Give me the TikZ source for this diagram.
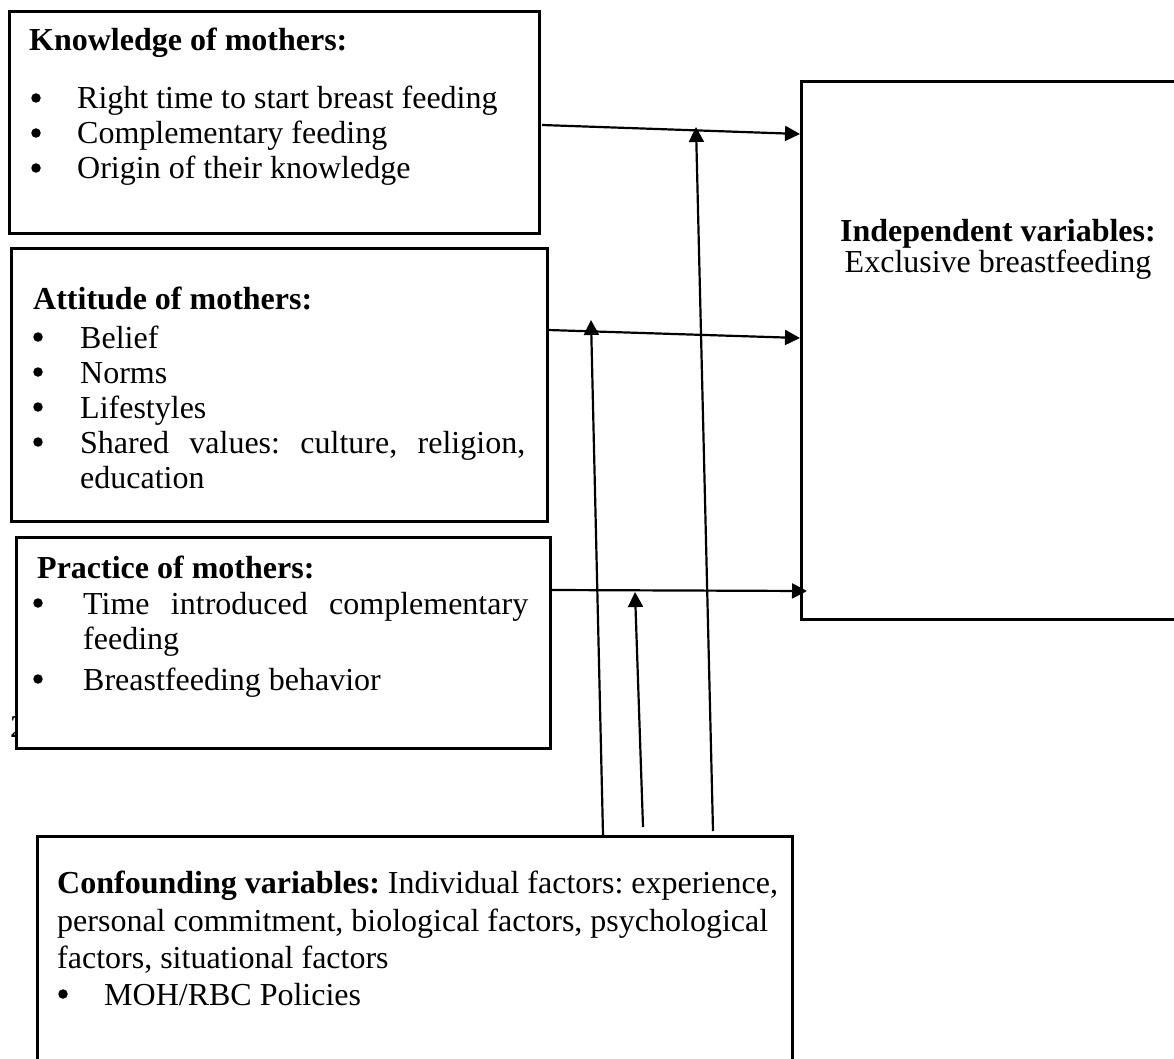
\documentclass[tikz,border=0pt]{standalone}
\usepackage{fontspec}
\setmainfont{Liberation Serif}
\usetikzlibrary{arrows.meta}
\frenchspacing
\begin{document}
\begin{tikzpicture}[x=1pt,y=-1pt,
  box/.style={draw, line width=2.6pt, anchor=north west, inner sep=0pt},
  txt/.style={anchor=base west, inner sep=0pt, font=\fontsize{32}{36}\selectfont\frenchspacing},
  ctxt/.style={anchor=base, inner sep=0pt, font=\fontsize{32}{36}\selectfont\frenchspacing},
  bul/.style={circle, fill=black, inner sep=0pt, minimum size=9.5pt},
  conn/.style={line width=2.2pt, -{Triangle[length=15pt,width=15pt]}}]
\useasboundingbox (0,0) rectangle (1174,1059);
\fill[white] (0,0) rectangle (1174,1059);

% Knowledge box
\node[box, minimum width=530pt, minimum height=222pt] (know) at (8,10) {};
\node[txt] (knowT) at (29,51) {\textbf{Knowledge of mothers:}};
\node[bul] (kb1) at (36,98) {};
\node[txt] (k1) at (77,109) {Right time to start breast feeding};
\node[bul] (kb2) at (36,133) {};
\node[txt] (k2) at (77,144) {Complementary feeding};
\node[bul] (kb3) at (36,168) {};
\node[txt] (k3) at (77,179) {Origin of their knowledge};

% Attitude box
\node[box, minimum width=536pt, minimum height=273pt] (att) at (10,247) {};
\node[txt] (attT) at (33,309) {\textbf{Attitude of mothers:}};
\node[bul] (ab1) at (38,337) {};
\node[txt] (a1) at (80,348) {Belief};
\node[bul] (ab2) at (38,372) {};
\node[txt] (a2) at (80,383) {Norms};
\node[bul] (ab3) at (38,407) {};
\node[txt] (a3) at (80,418) {Lifestyles};
\node[bul] (ab4) at (38,442) {};
\node[txt] (a4) at (80,453) {\makebox[445pt][s]{Shared values: culture, religion,}};
\node[txt] (a5) at (80,488) {education};

% stray glyph partly hidden by the practice box
\node[txt] (two) at (10,737) {2};

% Practice box
\node[box, fill=white, minimum width=534pt, minimum height=211pt] (prac) at (15,536) {};
\node[txt] (pracT) at (37,578) {\textbf{Practice of mothers:}};
\node[bul] (pb1) at (38,603) {};
\node[txt] (p1) at (83,614) {\makebox[445pt][s]{Time introduced complementary}};
\node[txt] (p2) at (83,649) {feeding};
\node[bul] (pb2) at (38,679) {};
\node[txt] (p3) at (83,690) {Breastfeeding behavior};

% Independent box
\node[box, minimum width=400pt, minimum height=538pt] (ind) at (800,80) {};
\node[ctxt] (indT) at (998,242) {\textbf{Independent variables:}};
\node[ctxt] (ind2) at (998,272) {Exclusive breastfeeding};

% Confounding box
\node[box, minimum width=755pt, minimum height=240pt] (conf) at (36,835) {};
\node[txt] (c1) at (57,893) {\textbf{Confounding variables:} Individual factors: experience,};
\node[txt] (c2) at (57,931) {personal commitment, biological factors, psychological};
\node[txt] (c3) at (57,968) {factors, situational factors};
\node[bul] (cb1) at (63,994) {};
\node[txt] (c4) at (104,1005) {MOH/RBC Policies};

% connector end points
\coordinate (k0) at (542,125);
\coordinate (kE) at (800,134);
\coordinate (a0) at (548,330);
\coordinate (aE) at (800,338);
\coordinate (p0) at (552,590);
\coordinate (pE) at (807,591);
\coordinate (v1s) at (713,831);
\coordinate (v1e) at (696,127);
\coordinate (v2s) at (603,835);
\coordinate (v2e) at (591,320);
\coordinate (v3s) at (643,827);
\coordinate (v3e) at (635,592);

\draw[conn] (k0) -- (kE);
\draw[conn] (a0) -- (aE);
\draw[conn] (p0) -- (pE);
\draw[conn] (v1s) -- (v1e);
\draw[conn] (v2s) -- (v2e);
\draw[conn] (v3s) -- (v3e);
\end{tikzpicture}
\end{document}
